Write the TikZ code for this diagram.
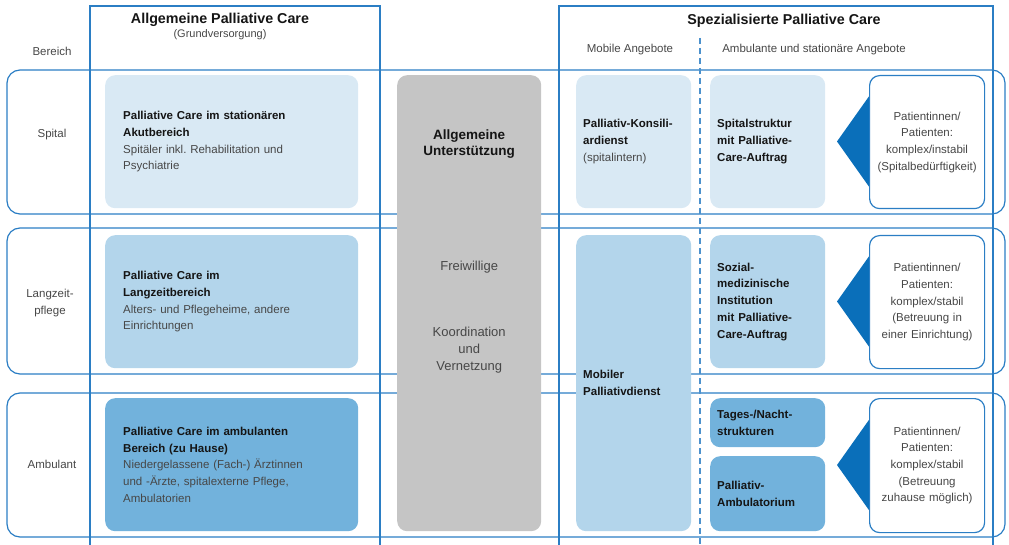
\documentclass[tikz,border=0pt]{standalone}
\usepackage{fontspec}
\setmainfont{Liberation Sans}
\usetikzlibrary{calc}
\definecolor{lineblue}{HTML}{2B7EC4}
\definecolor{triblue}{HTML}{0A6FBA}
\definecolor{boxA}{HTML}{D9E9F4}
\definecolor{boxB}{HTML}{B3D5EB}
\definecolor{boxC}{HTML}{72B2DC}
\definecolor{greybox}{HTML}{C5C5C5}
\definecolor{txtgrey}{HTML}{474747}
\definecolor{txtdark}{HTML}{151515}
\newcommand\myBody{\fontsize{11.5}{16.7}\selectfont}
\newcommand\myHead{\fontsize{14.3}{17}\selectfont\bfseries}
\newcommand\myB[1]{{\color{txtdark}\bfseries #1}}
\frenchspacing
\tikzset{
  band/.style={draw=lineblue, line width=1.2pt, rounded corners=13pt},
  colframe/.style={draw=lineblue, line width=1.2pt},
  dashline/.style={draw=lineblue!85, line width=1.2pt, dash pattern=on 6pt off 4pt},
  box/.style={anchor=north west, rounded corners=10pt, inner ysep=0pt, align=left,
    font=\myBody, text=txtgrey},
  leftbox/.style={box, inner xsep=18pt, text width=217pt, minimum height=133pt},
  midbox/.style={box, inner xsep=7pt, text width=101pt},
  patbox/.style={box, draw=lineblue, line width=1.2pt, fill=white, inner xsep=3pt,
    text width=109pt, align=center},
  lbl/.style={font=\myBody, text=txtgrey, align=center},
  head/.style={font=\myHead, text=txtdark, align=center},
  tri/.style={fill=triblue},
}
\begin{document}
\begin{tikzpicture}[x=1pt,y=-1pt]
\useasboundingbox (0,0) rectangle (1009,545);
% row bands
\draw[band] (7,70) rectangle (1005,214);
\draw[band] (7,228) rectangle (1005,374);
\draw[band] (7,393) rectangle (1005,537);
% column frames
\draw[colframe] (90,546) -- (90,6) -- (380,6) -- (380,546);
\draw[colframe] (559,546) -- (559,6) -- (993,6) -- (993,546);
\draw[dashline] (700,38) -- (700,546);
% headers
\node[head] (hAll) at (220,20) {Allgemeine Palliative Care};
\node[lbl, font=\fontsize{11}{13}\selectfont] (hGrund) at (220,35) {(Grundversorgung)};
\node[head] (hSpez) at (784,21) {Spezialisierte Palliative Care};
\node[lbl] (hMob) at (630,50) {Mobile Angebote};
\node[lbl] (hAmb) at (814,50) {Ambulante und stationäre Angebote};
\node[lbl] (hBer) at (52,51) {Bereich};
% row labels
\node[lbl] (rSpital) at (52,135) {Spital};
\node[lbl] (rLang) at (50,303) {Langzeit-\\pflege};
\node[lbl] (rAmb) at (52,464) {Ambulant};
% left boxes
\node[leftbox, fill=boxA] (lb1) at (105,75)
  {\myB{Palliative Care im stationären}\\\myB{Akutbereich}\\Spitäler inkl. Rehabilitation und\\Psychiatrie};
\node[leftbox, fill=boxB] (lb2) at (105,235)
  {\myB{Palliative Care im}\\\myB{Langzeitbereich}\\Alters- und Pflegeheime, andere\\Einrichtungen};
\node[leftbox, fill=boxC] (lb3) at (105,398)
  {\myB{Palliative Care im ambulanten}\\\myB{Bereich (zu Hause)}\\Niedergelassene (Fach-) Ärztinnen\\und -Ärzte, spitalexterne Pflege,\\Ambulatorien};
% grey support column
\node[box, fill=greybox, minimum width=144pt, minimum height=456pt, inner xsep=0pt] (support) at (397,75) {};
\node[head, font=\fontsize{13.5}{16}\selectfont\bfseries] (supT) at ($(support.north)+(0,69)$) {Allgemeine\\Unterstützung};
\node[lbl, font=\fontsize{13}{17}\selectfont] (supF) at ($(support.north)+(0,192)$) {Freiwillige};
\node[lbl, font=\fontsize{13}{17}\selectfont] (supK) at ($(support.north)+(0,275)$) {Koordination\\und\\Vernetzung};
% mobile column
\node[midbox, fill=boxA, minimum height=133pt] (konsil) at (576,75)
  {\myB{Palliativ-Konsili-}\\\myB{ardienst}\\(spitalintern)};
\node[midbox, fill=boxB, minimum height=296pt] (mobil) at (576,235)
  {\myB{Mobiler}\\\myB{Palliativdienst}};
% ambulant / stationary column
\node[midbox, fill=boxA, minimum height=133pt] (spstr) at (710,75)
  {\myB{Spitalstruktur}\\\myB{mit Palliative-}\\\myB{Care-Auftrag}};
\node[midbox, fill=boxB, minimum height=133pt] (sozial) at (710,235)
  {\myB{Sozial-}\\\myB{medizinische}\\\myB{Institution}\\\myB{mit Palliative-}\\\myB{Care-Auftrag}};
\node[midbox, fill=boxC, minimum height=49pt] (tages) at (710,398)
  {\myB{Tages-/Nacht-}\\\myB{strukturen}};
\node[midbox, fill=boxC, minimum height=75pt] (ambul) at (710,456)
  {\myB{Palliativ-}\\\myB{Ambulatorium}};
% patient boxes (positions)
\coordinate (p1w) at (869,141.5);
\coordinate (p2w) at (869,301.5);
\coordinate (p3w) at (869,465);
\fill[tri] ($(p1w)+(-32,0)$) -- ($(p1w)+(2,-48)$) -- ($(p1w)+(2,48)$) -- cycle;
\fill[tri] ($(p2w)+(-32,0)$) -- ($(p2w)+(2,-48)$) -- ($(p2w)+(2,48)$) -- cycle;
\fill[tri] ($(p3w)+(-32,0)$) -- ($(p3w)+(2,-48)$) -- ($(p3w)+(2,48)$) -- cycle;
\node[patbox, minimum height=133pt] (pat1) at (869,75)
  {Patientinnen/\\Patienten:\\komplex/instabil\\(Spitalbedürftigkeit)};
\node[patbox, minimum height=133pt] (pat2) at (869,235)
  {Patientinnen/\\Patienten:\\komplex/stabil\\(Betreuung in\\einer Einrichtung)};
\node[patbox, minimum height=134pt] (pat3) at (869,398)
  {Patientinnen/\\Patienten:\\komplex/stabil\\(Betreuung\\zuhause möglich)};
\end{tikzpicture}
\end{document}
